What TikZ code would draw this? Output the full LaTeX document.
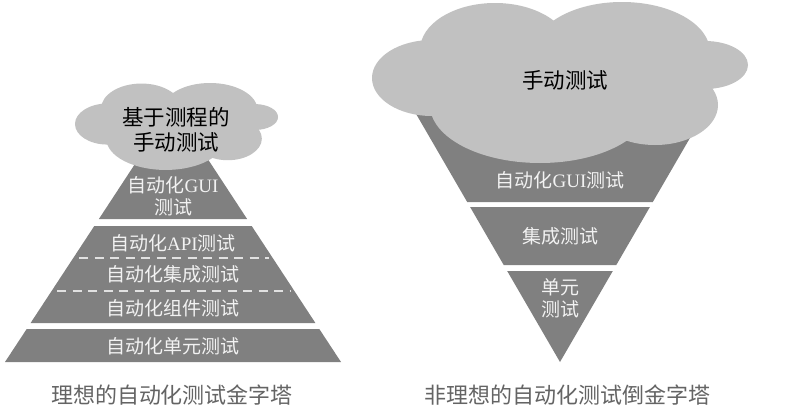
\documentclass[tikz,border=0pt]{standalone}
\usepackage{fontspec}
\setmainfont{Liberation Serif}
\newfontfamily\cjk{Noto Sans CJK SC}
\newfontfamily\rmlat{Liberation Serif}
\definecolor{pyrgray}{RGB}{128,128,128}
\definecolor{cloudgray}{RGB}{193,193,193}
\definecolor{captiongray}{RGB}{100,100,100}
\definecolor{layertext}{RGB}{242,242,242}
\definecolor{dashgray}{RGB}{225,225,225}
\newcommand\cloudlobes{%
  \fill[cloudgray]
    (60,76)   ellipse [x radius=60,  y radius=38]
    (123,48)  ellipse [x radius=75,  y radius=47]
    (250,50)  ellipse [x radius=88,  y radius=50]
    (333,63)  ellipse [x radius=43,  y radius=24]
    (283,103) ellipse [x radius=63,  y radius=40]
    (168,103) ellipse [x radius=110, y radius=58]
    (188,78)  ellipse [x radius=130, y radius=45];}
\begin{document}
\begin{tikzpicture}[x=1pt,y=-1pt,
  layerbox/.style={fill=pyrgray},
  layerlabel/.style={text=layertext,inner sep=0pt,align=center,font=\cjk\fontsize{19}{22}\selectfont},
  cloudlabel/.style={text=black,inner sep=0pt,align=center,font=\cjk\fontsize{21.5}{25}\selectfont},
  captionlabel/.style={text=captiongray,inner sep=0pt,font=\cjk\fontsize{22}{26}\selectfont},
  sepline/.style={draw=dashgray,line width=1.4pt,dash pattern=on 9pt off 6.5pt}]
\useasboundingbox (0,0) rectangle (785,415);
\fill[white] (0,0) rectangle (785,415);

% ---- left pyramid ----
\fill[layerbox] (173,106) -- (247.1,219) -- (98.9,219) -- cycle;
\fill[layerbox] (94.3,226) -- (251.7,226) -- (315.4,323) -- (30.6,323) -- cycle;
\fill[layerbox] (26.7,329) -- (319.3,329) -- (341,362) -- (5,362) -- cycle;
\draw[sepline] (79,258) -- (269,258);
\draw[sepline] (57,291) -- (291,291);
\begin{scope}[shift={(75,83)},scale=0.54]
  \cloudlobes
\end{scope}
\node[cloudlabel] (lcloud) at (176,129.5) {基于测程的\\手动测试};
\node[layerlabel] (lgui) at (173,196) {自动化{\rmlat GUI}\\测试};
\node[layerlabel] (lapi) at (173,243) {自动化{\rmlat API}测试};
\node[layerlabel] (lint) at (173,274) {自动化集成测试};
\node[layerlabel] (lcomp) at (173,308) {自动化组件测试};
\node[layerlabel] (lunit) at (173,346) {自动化单元测试};
\node[captionlabel] (lcap) at (172,395) {理想的自动化测试金字塔};

% ---- right inverted pyramid ----
\fill[layerbox] (408,100) -- (712,100) -- (652.8,202) -- (467.2,202) -- cycle;
\fill[layerbox] (470.1,207) -- (649.9,207) -- (616.3,265) -- (503.7,265) -- cycle;
\fill[layerbox] (507.2,271) -- (612.8,271) -- (560,362) -- cycle;
\begin{scope}[shift={(372,2)}]
  \cloudlobes
\end{scope}
\node[cloudlabel] (rcloud) at (565,80) {手动测试};
\node[layerlabel] (rgui) at (560,180) {自动化{\rmlat GUI}测试};
\node[layerlabel] (rint) at (560,236) {集成测试};
\node[layerlabel] (runit) at (560,298.5) {单元\\测试};
\node[captionlabel] (rcap) at (567,395) {非理想的自动化测试倒金字塔};
\end{tikzpicture}
\end{document}
